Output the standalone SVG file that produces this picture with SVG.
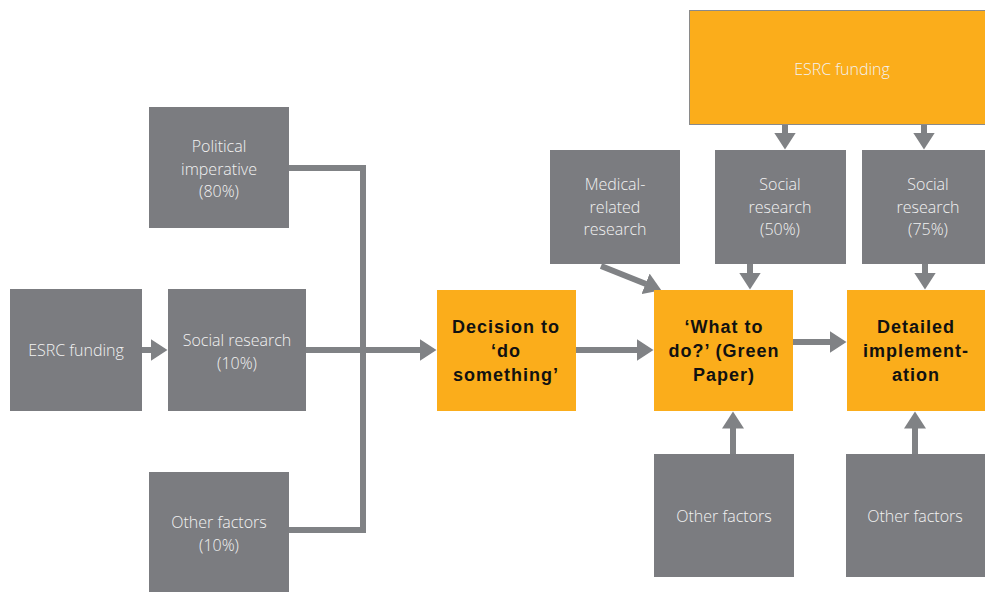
<svg xmlns="http://www.w3.org/2000/svg" width="985" height="592" viewBox="0 0 985 592">
<defs>
<marker id="ah" markerUnits="userSpaceOnUse" markerWidth="18" markerHeight="22" refX="0.5" refY="11" orient="auto">
<path d="M0,0 L17,11 L0,22 Z" fill="#808285"/>
</marker>
<style>
.g{fill:#7b7c80;}
.o{fill:#fbad1b;}
.c{stroke:#808285;stroke-width:6;fill:none;}
.t{font-family:"Open Sans","Liberation Sans",sans-serif;font-size:16px;fill:#f2f2f2;text-anchor:middle;font-weight:300;}
.b{font-family:"Liberation Sans",Arial,sans-serif;font-size:18px;letter-spacing:1px;font-weight:bold;fill:#111;text-anchor:middle;}
</style>
</defs>
<rect width="985" height="592" fill="#fff"/>
<g id="connectors">
<path class="c" d="M289,168 H363 V530 H289"/>
<path class="c" d="M142,350 H151" marker-end="url(#ah)"/>
<path class="c" d="M306,350 H420" marker-end="url(#ah)"/>
<path class="c" d="M576,350 H637" marker-end="url(#ah)"/>
<path class="c" d="M793,342 H830" marker-end="url(#ah)"/>
<path class="c" d="M601,266 L646,284" marker-end="url(#ah)"/>
<path class="c" d="M750,264 V273" marker-end="url(#ah)"/>
<path class="c" d="M925,264 V273" marker-end="url(#ah)"/>
<path class="c" d="M785,124 V133" marker-end="url(#ah)"/>
<path class="c" d="M924,124 V133" marker-end="url(#ah)"/>
<path class="c" d="M733,454 V428" marker-end="url(#ah)"/>
<path class="c" d="M915,454 V428" marker-end="url(#ah)"/>
</g>
<g id="n-esrc-top"><rect x="689.5" y="10.5" width="300" height="114" class="o" stroke="#8a8a8a" stroke-width="1"/><text class="t" x="842" y="75">ESRC funding</text></g>
<g id="n-political"><rect x="149" y="107" width="140" height="121" class="g"/><text class="t" x="219" y="152">Political</text><text class="t" x="219" y="175">imperative</text><text class="t" x="219" y="197">(80%)</text></g>
<g id="n-esrc-left"><rect x="10" y="289" width="132" height="122" class="g"/><text class="t" x="76" y="356">ESRC funding</text></g>
<g id="n-social10"><rect x="168" y="289" width="138" height="122" class="g"/><text class="t" x="237" y="346">Social research</text><text class="t" x="237" y="369">(10%)</text></g>
<g id="n-other10"><rect x="149" y="472" width="140" height="120" class="g"/><text class="t" x="219" y="528">Other factors</text><text class="t" x="219" y="551">(10%)</text></g>
<g id="n-decision"><rect x="437" y="290" width="139" height="121" class="o"/><text class="b" x="506" y="333">Decision to</text><text class="b" x="506" y="357">‘do</text><text class="b" x="506" y="381">something’</text></g>
<g id="n-medical"><rect x="550" y="150" width="130" height="114" class="g"/><text class="t" x="615" y="190">Medical-</text><text class="t" x="615" y="213">related</text><text class="t" x="615" y="235">research</text></g>
<g id="n-social50"><rect x="715" y="150" width="131" height="114" class="g"/><text class="t" x="780" y="190">Social</text><text class="t" x="780" y="213">research</text><text class="t" x="780" y="235">(50%)</text></g>
<g id="n-social75"><rect x="862" y="150" width="123" height="114" class="g"/><text class="t" x="928" y="190">Social</text><text class="t" x="928" y="213">research</text><text class="t" x="928" y="235">(75%)</text></g>
<g id="n-whattodo"><rect x="654" y="290" width="139" height="121" class="o"/><text class="b" x="724" y="333">‘What to</text><text class="b" x="724" y="357">do?’ (Green</text><text class="b" x="724" y="381">Paper)</text></g>
<g id="n-detailed"><rect x="847" y="290" width="138" height="121" class="o"/><text class="b" x="916" y="333">Detailed</text><text class="b" x="916" y="357">implement-</text><text class="b" x="916" y="381">ation</text></g>
<g id="n-other-mid"><rect x="654" y="454" width="140" height="123" class="g"/><text class="t" x="724" y="522">Other factors</text></g>
<g id="n-other-right"><rect x="846" y="454" width="139" height="123" class="g"/><text class="t" x="915" y="522">Other factors</text></g>
</svg>
